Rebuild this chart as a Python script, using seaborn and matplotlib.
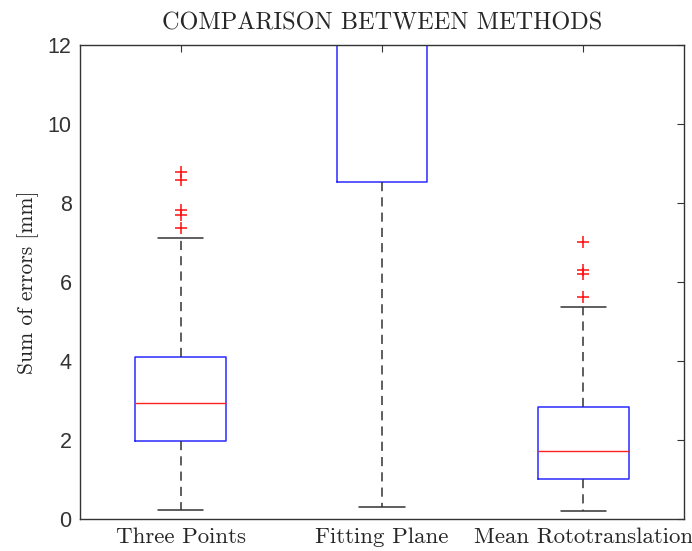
import matplotlib
matplotlib.use("Agg")
import matplotlib.pyplot as plt
import seaborn as sns

# Summary statistics per method (mm)
methods = ["Three Points", "Fitting Plane", "Mean Rototranslation"]
whisker_low = [0.23, 0.30, 0.20]
q1 = [1.97, 8.53, 1.01]
medians = [2.94, 13.0, 1.72]
q3 = [4.10, 16.0, 2.84]
whisker_high = [7.11, 25.0, 5.36]
outliers = [
    [7.36, 7.70, 7.82, 8.58, 8.79],
    [],
    [5.61, 6.20, 6.30, 7.02],
]

sns.set_style("white")
plt.rcParams["axes.unicode_minus"] = False

stats = []
for i, name in enumerate(methods):
    stats.append(dict(label=name, whislo=whisker_low[i], q1=q1[i], med=medians[i],
                      q3=q3[i], whishi=whisker_high[i], fliers=outliers[i]))

fig = plt.figure(figsize=(6.92, 5.51), dpi=100)
ax = fig.add_axes([0.1156, 0.0581, 0.8728, 0.8602])

ax.bxp(stats, positions=[1, 2, 3], widths=0.45,
       boxprops=dict(color="#2a2aff", linewidth=1.1),
       medianprops=dict(color="#ff2020", linewidth=1.0),
       whiskerprops=dict(color="#333333", linewidth=1.1, linestyle=(0, (6, 4))),
       capprops=dict(color="#333333", linewidth=1.1),
       flierprops=dict(marker="+", markeredgecolor="#ff1010", markersize=8,
                       markeredgewidth=1.1, linestyle="none"),
       capwidths=0.225)

ax.set_ylim(0, 12)
ax.set_xlim(0.5, 3.5)
ax.set_yticks(range(0, 13, 2))
ax.set_xticks([1, 2, 3])
ax.set_xticklabels(methods, family="cmr10", fontsize=16.5)
for lbl in ax.get_yticklabels():
    lbl.set_family("Liberation Sans")
    lbl.set_fontsize(15.5)
    lbl.set_color("#333333")

ax.tick_params(direction="in", length=5, top=True, right=True, color="#333333",
               pad=6)
for s in ax.spines.values():
    s.set_color("#333333")
    s.set_linewidth(1.0)

ax.set_ylabel("Sum of errors [mm]", family="cmr10", fontsize=15.5, labelpad=6)
ax.set_title("COMPARISON BETWEEN METHODS", family="cmr10", fontsize=17.5, pad=11)

fig.savefig("out.png", dpi=100)
